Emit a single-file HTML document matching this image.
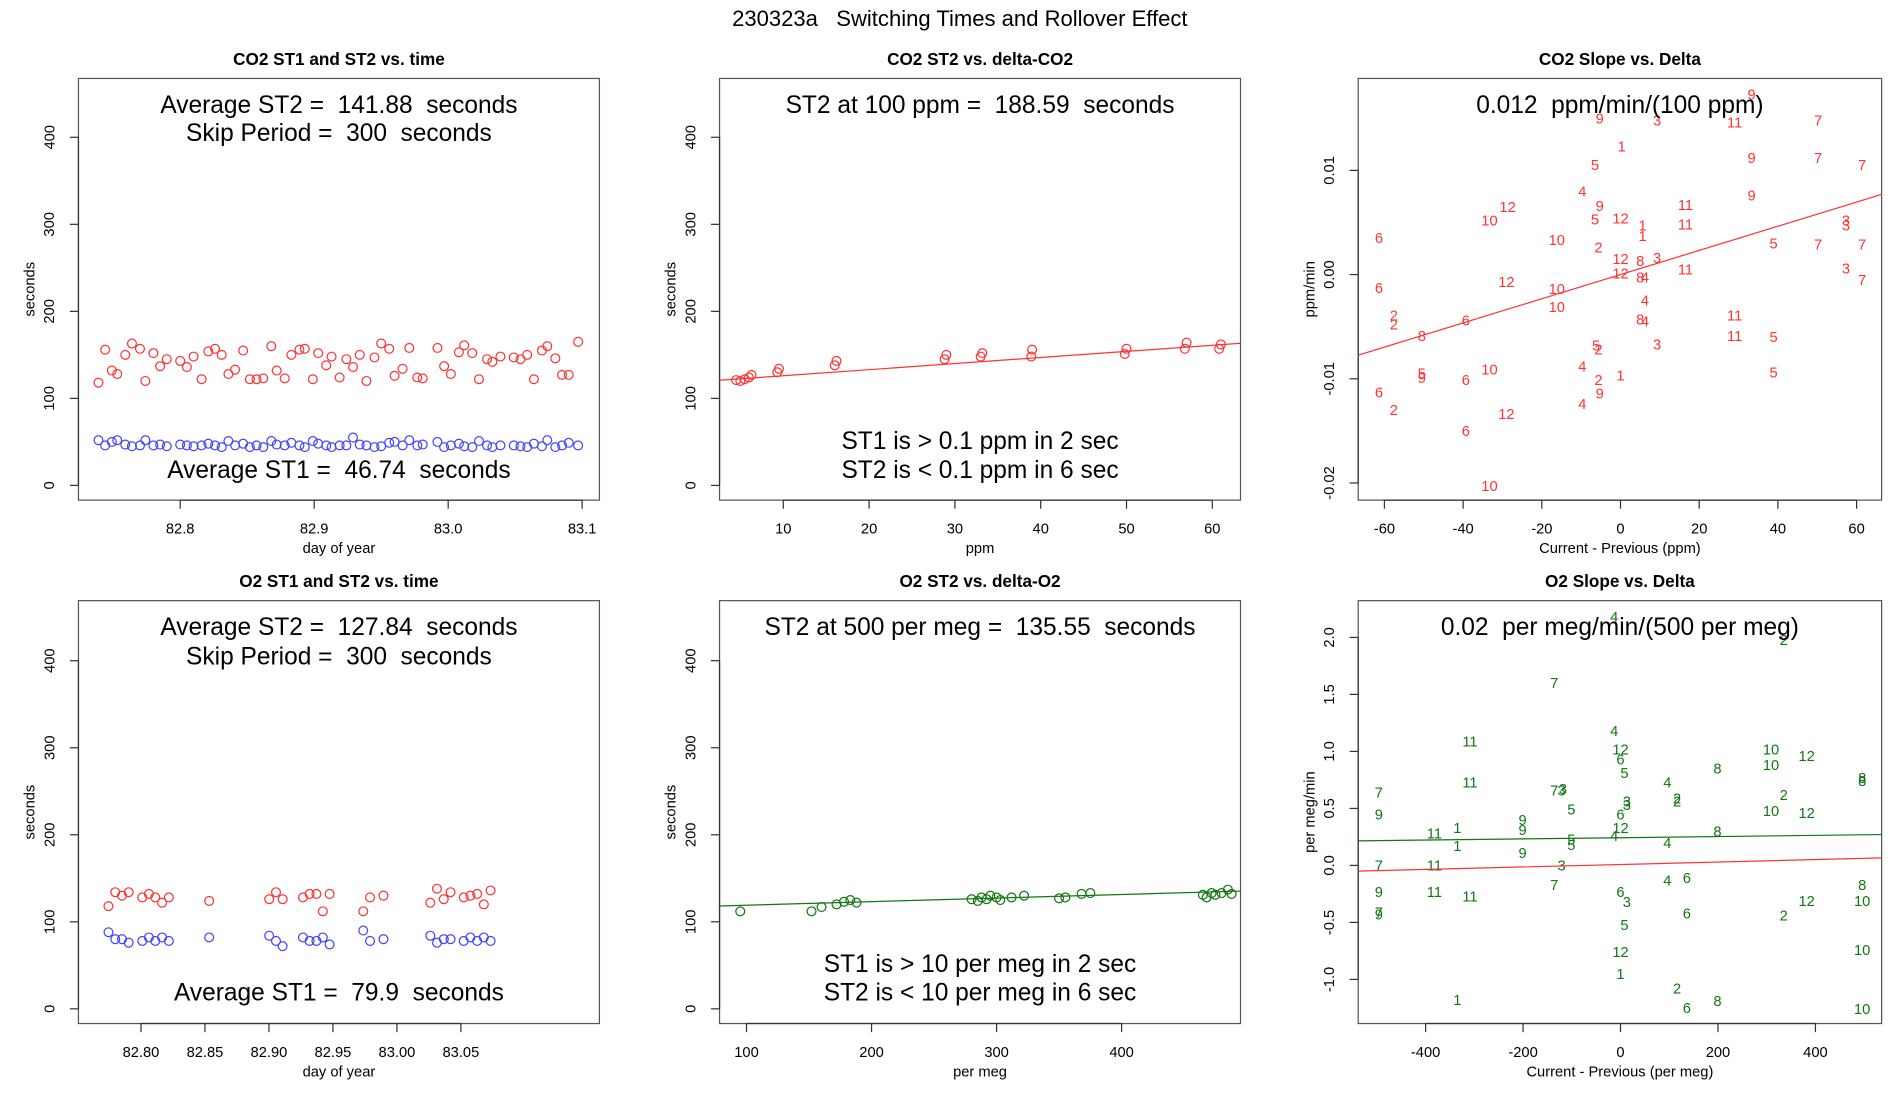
<!DOCTYPE html>
<html><head><meta charset="utf-8"><style>
html,body{margin:0;padding:0;background:#fff}
svg{display:block}
text{font-family:"Liberation Sans",sans-serif;white-space:pre}
</style></head><body>
<svg id="fig" xmlns="http://www.w3.org/2000/svg" xml:space="preserve" width="1900" height="1100" viewBox="0 0 1550 897.37">
<text x="783" y="15" text-anchor="middle" dominant-baseline="central" font-size="18">230323a   Switching Times and Rollover Effect</text>
</svg>
<script>
// ---- data: top-left CO2 ST vs time ----
const co2Days=[82.739,82.744,82.749,82.753,82.759,82.764,82.770,82.774,82.780,82.785,82.790,82.800,82.805,82.810,82.816,82.821,82.826,82.831,82.836,82.841,82.847,82.852,82.857,82.862,82.868,82.872,82.878,82.883,82.889,82.893,82.899,82.903,82.909,82.913,82.919,82.924,82.929,82.934,82.939,82.945,82.950,82.956,82.960,82.966,82.971,82.977,82.981,82.992,82.997,83.002,83.008,83.012,83.018,83.023,83.029,83.033,83.039,83.049,83.054,83.059,83.064,83.070,83.074,83.080,83.085,83.090,83.097];
const co2ST2=[118,156,132,128,150,163,157,120,152,137,145,143,136,148,122,154,157,150,128,133,155,122,122,123,160,132,123,150,156,157,122,152,138,148,124,145,136,150,120,147,163,157,126,134,158,124,123,158,137,128,153,161,152,122,145,142,148,147,145,150,122,155,160,146,127,127,165];
const co2ST1=[52,46,50,52,47,45,46,52,46,47,45,47,46,45,46,48,46,44,51,46,48,44,46,44,51,47,46,49,46,44,51,48,46,44,46,46,55,47,46,44,45,49,50,46,52,46,47,50,44,46,48,45,44,51,46,44,46,46,45,44,48,45,52,44,46,49,46];
// ---- bottom-left O2 ST vs time ----
const o2Days=[82.7746,82.7799,82.7852,82.7904,82.801,82.8062,82.8112,82.8165,82.8218,82.8533,82.9002,82.9055,82.9107,82.9266,82.9318,82.9371,82.9421,82.9474,82.9737,82.979,82.9895,83.0261,83.0313,83.0366,83.0419,83.0522,83.0574,83.0627,83.0679,83.0732];
const o2ST2=[118,134,130,134,128,132,128,122,128,124,126,134,126,128,132,132,112,132,112,128,130,122,138,126,134,128,130,132,120,136];
const o2ST1=[88,80,80,76,78,82,78,82,78,82,84,78,72,82,78,78,82,74,90,78,80,84,76,80,80,78,82,78,82,78];
// ---- top-middle CO2 ST2 vs delta ----
const co2Delta=[4.5,5,5.5,6,6.3,9.3,9.5,16,16.2,28.8,29,33,33.2,38.9,39,49.8,50,56.8,57,60.8,61];
const co2DeltaST2=[121,120,122,124,127,130,134,138,143,145,150,148,152,148,156,151,157,157,164,157,162];
const co2Fit=[119,0.70];
// ---- bottom-middle O2 ST2 vs delta ----
const o2Delta=[95,152,160,172,178,183,188,280,285,288,292,295,300,303,312,322,350,355,368,375,465,468,472,475,480,485,488];
const o2DeltaST2=[112,112,117,120,123,125,122,126,124,128,126,130,128,125,128,130,127,128,132,133,131,128,133,131,133,137,132];
const o2Fit=[115,0.041];
// ---- top-right CO2 slope vs delta ----
const trX=[-61.4,-61.4,-61.4,-57.6,-57.6,-57.6,-50.5,-50.5,-50.5,-39.3,-39.3,-39.3,-33.3,-28.7,-29.0,-29.0,-33.3,-33.3,-16.2,-16.2,-16.2,-9.7,-5.3,-6.5,-5.3,-6.5,-5.6,-6.2,-5.6,-9.7,-5.6,-5.3,-9.7,0.3,0,0,0,0,5.6,5.6,5.0,5.0,6.2,6.2,5.0,6.2,9.3,9.3,9.3,16.5,16.5,16.5,29.0,29.0,29.0,33.3,33.3,33.3,38.9,38.9,38.9,50.2,50.2,50.2,57.3,57.3,57.3,61.4,61.4,61.4];
const trY=[0.0034,-0.0014,-0.0114,-0.0040,-0.0049,-0.0131,-0.0060,-0.0096,-0.0100,-0.0045,-0.0102,-0.0151,0.0051,0.0064,-0.0008,-0.0135,-0.0092,-0.0204,0.0032,-0.0015,-0.0032,0.0079,0.0149,0.0104,0.0065,0.0052,0.0025,-0.0069,-0.0073,-0.0089,-0.0102,-0.0115,-0.0125,0.0122,0.0053,0.0014,0.0,-0.0098,0.0046,0.0036,0.0012,-0.0004,-0.0004,-0.0026,-0.0044,-0.0046,0.0147,0.0015,-0.0068,0.0066,0.0047,0.0004,0.0145,-0.0040,-0.0060,0.0172,0.0111,0.0075,0.0029,-0.0061,-0.0095,0.0147,0.0111,0.0028,0.0051,0.0046,0.0005,0.0104,0.0028,-0.0006];
const trLab=["6","6","6","2","2","2","8","5","9","6","6","6","10","12","12","12","10","10","10","10","10","4","9","5","9","5","2","5","2","4","2","9","4","1","12","12","12","1","1","1","8","8","4","4","8","4","3","3","3","11","11","11","11","11","11","9","9","9","5","5","5","7","7","7","3","3","3","7","7","7"];
const trFit=[0,0.000116];
// ---- bottom-right O2 slope vs delta ----
const brX=[-496,-496,-496,-496,-496,-496,-335,-335,-335,-382,-382,-382,-309,-309,-309,-201,-201,-201,-136,-136,-136,-121,-121,-118,-101,-101,-101,-13,-13,-13,0,0,0,0,0,0,0,8,13,13,8,13,96,96,96,116,116,116,136,136,136,199,199,199,309,309,309,335,335,335,382,382,382,496,496,496,496,496,496];
const brY=[0.63,0.44,-0.01,-0.24,-0.42,-0.44,0.32,0.16,-1.19,0.27,-0.01,-0.24,1.08,0.72,-0.28,0.39,0.30,0.10,1.59,0.65,-0.18,0.65,-0.01,0.66,0.48,0.22,0.17,2.17,1.17,0.25,1.01,0.92,0.44,0.32,-0.24,-0.77,-0.96,0.80,0.55,0.52,-0.53,-0.33,0.72,0.19,-0.14,0.58,0.55,-1.09,-0.12,-0.43,-1.26,0.84,0.29,-1.20,1.01,0.87,0.47,1.97,0.61,-0.45,0.95,0.45,-0.32,0.76,0.73,-0.18,-0.32,-0.75,-1.27];
const brLab=["7","9","7","9","7","9","1","1","1","11","11","11","11","11","11","9","9","9","7","7","7","3","3","3","5","5","5","4","4","4","12","6","6","12","6","12","1","5","3","3","5","3","4","4","4","2","2","2","6","6","6","8","8","8","10","10","10","2","2","2","12","12","12","8","8","8","10","10","10"];
const brFitG=[0.243,0.0000516];
const brFitR=[0.008,0.000108];

const NS="http://www.w3.org/2000/svg";
const svg=document.getElementById('fig');
function mk(tag,attrs,parent){const e=document.createElementNS(NS,tag);for(const k in attrs)e.setAttribute(k,attrs[k]);(parent||svg).appendChild(e);return e;}
function txt(parent,x,y,s,size,extra){const t=mk('text',Object.assign({x:x,y:y,'font-size':size,'text-anchor':'middle','dominant-baseline':'central'},extra||{}),parent);t.textContent=s;return t;}

function panel(o){
  const g=mk('g',{},svg);
  
  
  const X=v=>o.x0+(v-o.xv0)*o.xs, Y=v=>o.y0-(v-o.yv0)*o.ys;
  const t=txt(g,(o.L+o.R)/2,o.T-16,o.title,14,{'font-weight':'bold'});
  
  
  const box=mk('rect',{x:o.L,y:o.T,width:o.R-o.L,height:o.B-o.T,fill:'none',stroke:'#555','stroke-width':1},g);
  
  
  const xa=mk('g',{},g);
  
  
  o.xt.forEach((v,i)=>{const px=X(v);mk('line',{x1:px,x2:px,y1:o.B,y2:o.B+7,stroke:'#333'},xa);txt(xa,px,o.B+24,o.xtl[i],12);});
  mk('line',{x1:X(o.xt[0]),x2:X(o.xt[o.xt.length-1]),y1:o.B,y2:o.B,stroke:'#333'},xa);
  const xl=txt(g,(o.L+o.R)/2,o.B+40,o.xlab,12);
  
  
  const ya=mk('g',{},g);
  
  
  o.yt.forEach((v,i)=>{const py=Y(v);mk('line',{x1:o.L,x2:o.L-7,y1:py,y2:py,stroke:'#333'},ya);txt(ya,o.L-23,py,o.ytl[i],12,{transform:`rotate(-90 ${o.L-23} ${py})`});});
  mk('line',{x1:o.L,x2:o.L,y1:Y(o.yt[0]),y2:Y(o.yt[o.yt.length-1]),stroke:'#333'},ya);
  const yl=txt(g,o.L-39,(o.T+o.B)/2,o.ylab,12,{transform:`rotate(-90 ${o.L-39} ${(o.T+o.B)/2})`});
  
  
  const clip='c'+o.name;
  const cp=mk('clipPath',{id:clip},g);mk('rect',{x:o.L,y:o.T,width:o.R-o.L,height:o.B-o.T},cp);
  const pg=mk('g',{'clip-path':`url(#${clip})`},g);
  (o.circles||[]).forEach(s=>{const sg=mk('g',{},pg);
    
    
    s.x.forEach((v,i)=>{const c=mk('circle',{cx:X(v),cy:Y(s.y[i]),r:3.6,fill:'none',stroke:s.col,'stroke-width':1},sg);
      
      });});
  (o.labels||[]).forEach(s=>{const sg=mk('g',{},pg);
    
    
    s.x.forEach((v,i)=>{const c=txt(sg,X(v),Y(s.y[i]),s.l[i],12,{fill:s.col});
      
      });});
  (o.lines||[]).forEach(f=>{const a=o.xmin,b=o.xmax;const l=mk('line',{x1:X(a),y1:Y(f.c[0]+f.c[1]*a),x2:X(b),y2:Y(f.c[0]+f.c[1]*b),stroke:f.col,'stroke-width':1},pg);
    
    });
  (o.notes||[]).forEach(n=>{const a=txt(g,(o.L+o.R)/2,n[1],n[0],20);
    
    });
}
const sec=['0','100','200','300','400'], secv=[0,100,200,300,400];
const RED='#ff3333', BLUE='#4444ff', GREEN='#117711';
panel({name:'co2-st-vs-time',title:'CO2 ST1 and ST2 vs. time',L:64,R:489,T:64,B:408,x0:147,xv0:82.8,xs:1093,y0:396,yv0:0,ys:0.71,
 xt:[82.8,82.9,83.0,83.1],xtl:['82.8','82.9','83.0','83.1'],yt:secv,ytl:sec,xlab:'day of year',ylab:'seconds',
 circles:[{name:'st2-series',x:co2Days,y:co2ST2,col:RED},{name:'st1-series',x:co2Days,y:co2ST1,col:BLUE}],
 notes:[['Average ST2 =  141.88  seconds',86],['Skip Period =  300  seconds',109],['Average ST1 =  46.74  seconds',384]]});
panel({name:'o2-st-vs-time',title:'O2 ST1 and ST2 vs. time',L:64,R:489,T:490,B:835,x0:115,xv0:82.8,xs:1044,y0:823,yv0:0,ys:0.71,
 xt:[82.8,82.85,82.9,82.95,83.0,83.05],xtl:['82.80','82.85','82.90','82.95','83.00','83.05'],yt:secv,ytl:sec,xlab:'day of year',ylab:'seconds',
 circles:[{name:'st2-series',x:o2Days,y:o2ST2,col:RED},{name:'st1-series',x:o2Days,y:o2ST1,col:BLUE}],
 notes:[['Average ST2 =  127.84  seconds',512],['Skip Period =  300  seconds',536],['Average ST1 =  79.9  seconds',810]]});
panel({name:'co2-st2-vs-delta',title:'CO2 ST2 vs. delta-CO2',L:587,R:1012,T:64,B:408,x0:639,xv0:10,xs:7,y0:396,yv0:0,ys:0.71,xmin:2,xmax:64,
 xt:[10,20,30,40,50,60],xtl:['10','20','30','40','50','60'],yt:secv,ytl:sec,xlab:'ppm',ylab:'seconds',
 circles:[{name:'st2-series',x:co2Delta,y:co2DeltaST2,col:RED}],lines:[{name:'fit-line',c:co2Fit,col:RED}],
 notes:[['ST2 at 100 ppm =  188.59  seconds',86],['ST1 is > 0.1 ppm in 2 sec',360],['ST2 is < 0.1 ppm in 6 sec',384]]});
panel({name:'o2-st2-vs-delta',title:'O2 ST2 vs. delta-O2',L:587,R:1012,T:490,B:835,x0:609,xv0:100,xs:1.02,y0:823,yv0:0,ys:0.71,xmin:70,xmax:500,
 xt:[100,200,300,400],xtl:['100','200','300','400'],yt:secv,ytl:sec,xlab:'per meg',ylab:'seconds',
 circles:[{name:'st2-series',x:o2Delta,y:o2DeltaST2,col:GREEN}],lines:[{name:'fit-line',c:o2Fit,col:GREEN}],
 notes:[['ST2 at 500 per meg =  135.55  seconds',512],['ST1 is > 10 per meg in 2 sec',787],['ST2 is < 10 per meg in 6 sec',810]]});
panel({name:'co2-slope-vs-delta',title:'CO2 Slope vs. Delta',L:1108,R:1535,T:64,B:408,x0:1322,xv0:0,xs:3.21,y0:224,yv0:0,ys:8500,xmin:-70,xmax:70,
 xt:[-60,-40,-20,0,20,40,60],xtl:['-60','-40','-20','0','20','40','60'],yt:[-0.02,-0.01,0,0.01],ytl:['-0.02','-0.01','0.00','0.01'],xlab:'Current - Previous (ppm)',ylab:'ppm/min',
 labels:[{name:'slope-labels',x:trX,y:trY,l:trLab,col:RED}],lines:[{name:'fit-line',c:trFit,col:RED}],
 notes:[['0.012  ppm/min/(100 ppm)',86]]});
panel({name:'o2-slope-vs-delta',title:'O2 Slope vs. Delta',L:1108,R:1535,T:490,B:835,x0:1322,xv0:0,xs:0.3975,y0:706,yv0:0,ys:93,xmin:-560,xmax:560,
 xt:[-400,-200,0,200,400],xtl:['-400','-200','0','200','400'],yt:[-1,-0.5,0,0.5,1,1.5,2],ytl:['-1.0','-0.5','0.0','0.5','1.0','1.5','2.0'],xlab:'Current - Previous (per meg)',ylab:'per meg/min',
 labels:[{name:'slope-labels',x:brX,y:brY,l:brLab,col:GREEN}],lines:[{name:'fit-line-green',c:brFitG,col:GREEN},{name:'fit-line-red',c:brFitR,col:RED}],
 notes:[['0.02  per meg/min/(500 per meg)',512]]});
</script>
</body></html>
